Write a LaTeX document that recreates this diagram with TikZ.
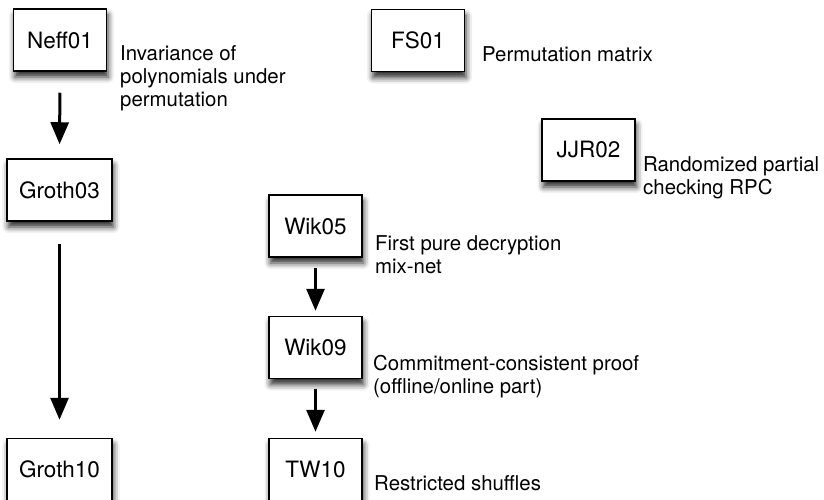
\documentclass[tikz,border=0pt]{standalone}
\usepackage{fontspec}
\setmainfont{TeX Gyre Heros}
\usetikzlibrary{arrows.meta,shadows.blur}

\newcommand{\boxfont}{\fontsize{22.5}{27}\selectfont}
\newcommand{\notefont}{\fontsize{20.4}{23}\selectfont}
% multi-line note whose baseline is that of its first line
\newcommand{\lines}[1]{\begin{tabular}[t]{@{}l@{}}#1\end{tabular}}

\tikzset{
  refbox/.style={draw=black, line width=1.5pt, fill=white,
    minimum width=93pt, minimum height=62pt, inner sep=0pt,
    font=\boxfont,
    blur shadow={shadow xshift=1.5pt, shadow yshift=-6pt,
      shadow blur radius=6pt, shadow opacity=85}},
  widebox/.style={refbox, minimum width=105pt},
  note/.style={anchor=base west, inner sep=0pt, font=\notefont},
  link/.style={line width=3pt, -{Triangle[length=22pt,width=18pt]}}
}

\begin{document}
\begin{tikzpicture}[x=1pt, y=-1pt]
  \useasboundingbox (0,0) rectangle (824,500);

  % papers
  \node[refbox]  (neff)   at (60,40)      {Neff01};
  \node[refbox]  (fs)     at (418,40.5)   {FS01};
  \node[refbox]  (jjr)    at (588.5,150)  {JJR02};
  \node[widebox] (groth3) at (59.5,190)   {Groth03};
  \node[refbox]  (wik5)   at (315.5,226)  {Wik05};
  \node[refbox]  (wik9)   at (315.5,347.5){Wik09};
  \node[widebox] (groth10)at (59.5,469.5) {Groth10};
  \node[refbox]  (tw)     at (315.5,469.5){TW10};

  % descriptions
  \node[note] (nneff) at (120,60.7) {\lines{Invariance of\\polynomials under\\permutation}};
  \node[note] (nfs)   at (482,62)   {Permutation matrix};
  \node[note] (njjr)  at (643,171)  {\lines{Randomized partial\\checking RPC}};
  \node[note] (nwik5) at (375,250)  {\lines{First pure decryption\\mix-net}};
  \node[note] (nwik9) at (373,370)  {\lines{Commitment-consistent proof\\(offline/online part)}};
  \node[note] (ntw)   at (374,490)  {Restricted shuffles};

  % lineage
  \draw[link, shorten <=21pt, shorten >=14pt] (neff.south)   -- (groth3.north);
  \draw[link, shorten <=22pt, shorten >=18pt] (groth3.south) -- (groth10.north);
  \draw[link, shorten <=10pt, shorten >=5pt]  (wik5.south)   -- (wik9.north);
  \draw[link, shorten <=10pt, shorten >=6pt]  (wik9.south)   -- (tw.north);
\end{tikzpicture}
\end{document}
